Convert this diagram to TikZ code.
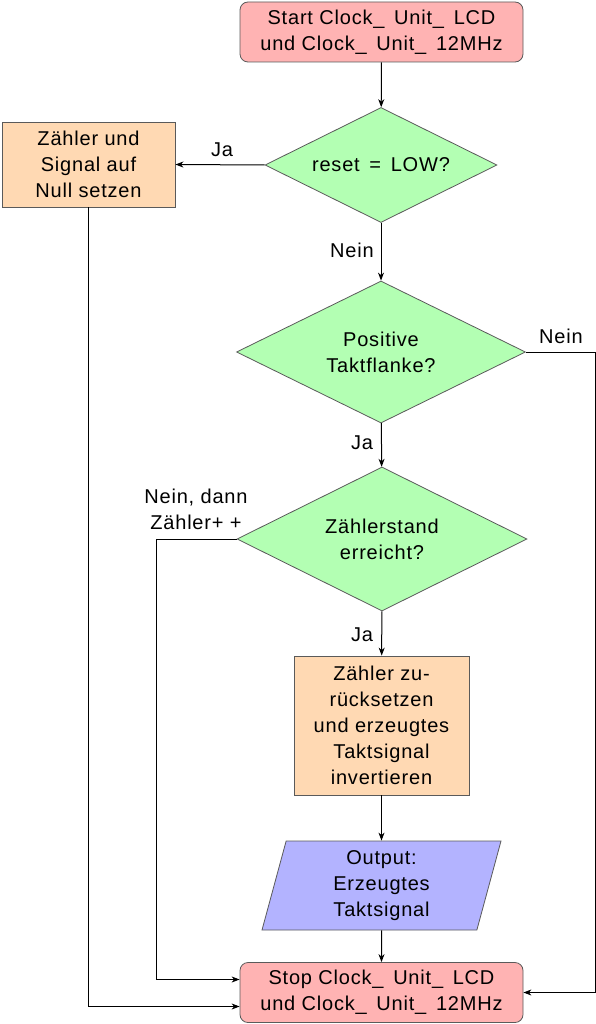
\documentclass[tikz,border=0pt]{standalone}
\usepackage{fontspec}
\setmainfont{Liberation Sans}[LetterSpace=4]
\usetikzlibrary{shapes.geometric,arrows.meta}
\definecolor{TermRed}{HTML}{FFB3B3}
\definecolor{ActPeach}{HTML}{FFD9B3}
\definecolor{DecGreen}{HTML}{B3FFB3}
\definecolor{OutBlue}{HTML}{B3B3FF}
\definecolor{FrameGray}{HTML}{5A5A5A}

\begin{document}
\begin{tikzpicture}[x=1pt, y=-1pt,
  base/.style={font=\fontsize{20}{26}\selectfont, align=center, draw=FrameGray, line width=0.8pt},
  terminal/.style={base, rounded corners=8pt, fill=TermRed, minimum width=283pt, minimum height=60pt},
  action/.style={base, fill=ActPeach, inner sep=0pt},
  decision/.style={base, diamond, aspect=2, inner sep=0pt, fill=DecGreen},
  output/.style={base, trapezium, trapezium left angle=71, trapezium right angle=109,
    trapezium stretches body, fill=OutBlue, minimum width=239pt, minimum height=89pt, inner sep=0pt},
  flow/.style={-{Stealth[length=8pt,width=6pt,inset=2.5pt]}, line width=1pt},
  lbl/.style={font=\fontsize{20}{26}\selectfont, align=center, inner sep=0pt}]
  \useasboundingbox (0,0) rectangle (596,1024);

  % nodes
  \node[terminal] (start) at (381.5,32) {Start Clock\_\ \,Unit\_\ \,LCD\\und Clock\_\ \,Unit\_\ \,12MHz};
  \node[decision, minimum width=232pt, minimum height=115pt] (reset) at (381,165) {reset \,=\, LOW?};
  \node[action, minimum width=173pt, minimum height=85pt] (zero) at (88.5,164.5) {Zähler und\\Signal auf\\Null setzen};
  \node[decision, minimum width=289pt, minimum height=142pt] (edge) at (381,352) {Positive\\Taktflanke?};
  \node[decision, minimum width=290pt, minimum height=144pt] (count) at (382,539) {Zählerstand\\erreicht?};
  \node[action, minimum width=175pt, minimum height=139pt] (toggle) at (381.5,725.5)
    {Zähler zu-\\rücksetzen\\und erzeugtes\\Taktsignal\\invertieren};
  \node[output] (out) at (381.5,885.5) {Output:\\Erzeugtes\\Taktsignal};
  \node[terminal] (stop) at (381.5,992.5) {Stop Clock\_\ \,Unit\_\ \,LCD\\und Clock\_\ \,Unit\_\ \,12MHz};

  \coordinate (rightrail) at (595,0);
  \coordinate (looprail) at (156,0);

  % connectors
  \draw[flow] (start) -- (reset);
  \draw[flow] (reset.west) -- (zero.east);
  \draw[flow] (reset) -- (edge);
  \draw[flow] (edge) -- (count);
  \draw[flow] (count) -- (toggle);
  \draw[flow] (toggle) -- (out);
  \draw[flow] (out) -- (stop);
  \draw[flow] (edge.east) -- (edge.east -| rightrail) |- (stop.east);
  \draw[flow] (count.west) -- (count.west -| looprail) |- ([yshift=13pt]stop.west);
  \draw[flow] (zero.south) |- ([yshift=-14pt]stop.west);

  % labels
  \node[lbl] (jaZero) at (222,150) {Ja};
  \node[lbl] (neinReset) at (352,250) {Nein};
  \node[lbl] (neinEdge) at (561,336) {Nein};
  \node[lbl] (jaEdge) at (362,443) {Ja};
  \node[lbl] (neinCount) at (196,509) {Nein, dann\\Zähler+ +};
  \node[lbl] (jaCount) at (362,635) {Ja};
\end{tikzpicture}
\end{document}
